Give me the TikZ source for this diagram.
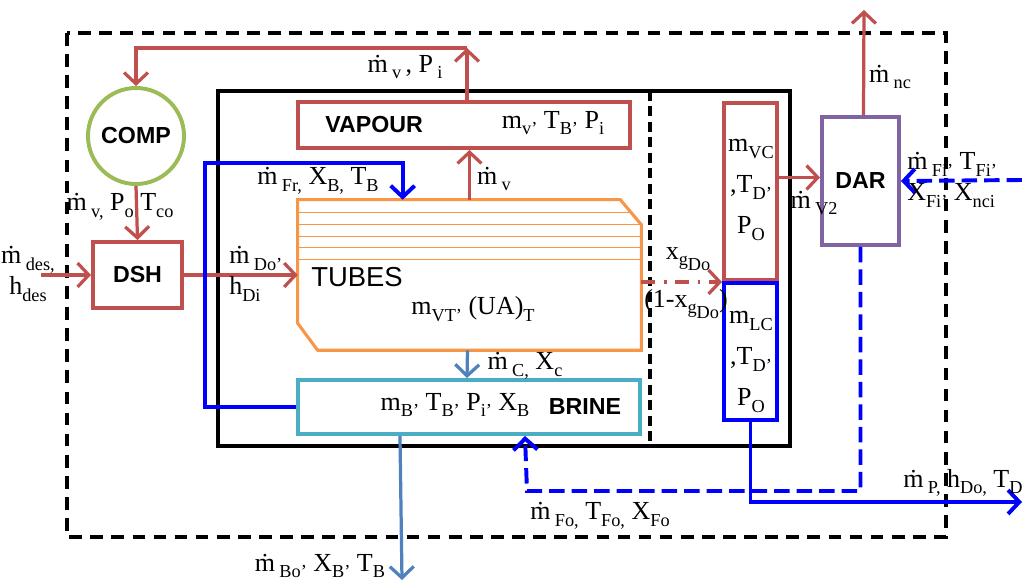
\documentclass[tikz,border=0pt]{standalone}
\usepackage{fontspec}
\setmainfont{Liberation Serif}
\newfontfamily\labelsans{Liberation Sans}
\usepackage{amsmath}
\usetikzlibrary{arrows.meta, calc, positioning}
\definecolor{dsred}{RGB}{192, 80, 77}
\definecolor{dsgreen}{RGB}{155, 187, 89}
\definecolor{dsorange}{RGB}{247, 150, 70}
\definecolor{dscyan}{RGB}{75, 172, 198}
\definecolor{dssteel}{RGB}{79, 129, 189}
\definecolor{dspurple}{RGB}{128, 100, 162}
\definecolor{dsblue}{RGB}{0, 0, 255}
\newcommand{\mdot}{ṁ}
\newcommand{\sub}[1]{\raisebox{-0.55ex}{\fontsize{13}{14}\selectfont #1}}

\begin{document}
\begin{tikzpicture}[
  x=0.025cm, y=-0.025cm,
  lbl/.style={inner sep=0pt, font=\fontsize{18.5}{22}\selectfont},
  tagtext/.style={inner sep=0pt, font=\labelsans\bfseries\fontsize{16.5}{18}\selectfont},
  unitbox/.style={draw, line width=2.8pt, inner sep=0pt},
  redflow/.style={draw=dsred, line width=2.3pt, -{Straight Barb[length=8pt,width=17pt]}},
  blueflow/.style={draw=dsblue, line width=2.8pt, -{Straight Barb[length=8pt,width=17pt]}},
  steelflow/.style={draw=dssteel, line width=2.3pt, -{Straight Barb[length=8pt,width=17pt]}}
]
  \useasboundingbox (0,0) rectangle (1022,582);

  % control volumes
  \draw[line width=2.8pt, dash pattern=on 9pt off 6pt] (67,33) rectangle (946,537);
  \draw[line width=2.8pt] (218,91) rectangle (790,446);
  \draw[line width=2.8pt, dash pattern=on 7pt off 4pt] (650,91) -- (650,446);

  % units
  \node[unitbox, circle, draw=dsgreen, minimum size=2.4cm, font=\labelsans\bfseries\fontsize{16.5}{18}\selectfont] (comp) at (136,136) {COMP};
  \node[unitbox, draw=dsred, minimum width=2.225cm, minimum height=1.65cm, font=\labelsans\bfseries\fontsize{16.5}{18}\selectfont] (dsh) at (137.5,275) {DSH};
  \node[unitbox, draw=dsred, minimum width=8.3cm, minimum height=1.15cm] (vapour) at (464,125) {};
  \node[unitbox, draw=dscyan, minimum width=8.55cm, minimum height=1.35cm] (brine) at (469,407) {};
  \node[unitbox, draw=dsred, minimum width=1.325cm, minimum height=4.425cm] (vc) at (750.5,191.5) {};
  \node[unitbox, draw=dsblue, minimum width=1.325cm, minimum height=3.425cm] (lc) at (750.5,351.5) {};
  \node[unitbox, draw=dspurple, minimum width=1.925cm, minimum height=3.2cm, font=\labelsans\bfseries\fontsize{16.5}{18}\selectfont] (dar) at (860.5,181) {DAR};
  \node[inner sep=0pt, minimum width=8.575cm, minimum height=3.75cm] (tubes) at (469.5,275) {};

  % tube bundle
  \begin{scope}
    \clip (tubes.north west) -- ($(tubes.north east)+(-21,0)$) -- ($(tubes.north east)+(0,25)$)
      -- (tubes.south east) -- ($(tubes.south west)+(20,0)$) -- ($(tubes.south west)+(0,-27)$) -- cycle;
    \foreach \dy in {13,25,37,48,60}
      \draw[dsorange, line width=1.1pt] ($(tubes.north west)+(0,\dy)$) -- ($(tubes.north east)+(0,\dy)$);
  \end{scope}
  \draw[dsorange, line width=2.2pt] (tubes.north west) -- ($(tubes.north east)+(-21,0)$) -- ($(tubes.north east)+(0,25)$)
    -- (tubes.south east) -- ($(tubes.south west)+(20,0)$) -- ($(tubes.south west)+(0,-27)$) -- cycle;

  % texts inside units
  \node[tagtext, anchor=west] (vapourtag) at (325,125) {VAPOUR};
  \node[lbl] (vapourvar) at (553,123) {m\sub{v’} T\sub{B’} P\sub{i}};
  \node[lbl, anchor=west, font=\labelsans\fontsize{19.5}{21}\selectfont] (tubestag) at (311,277) {TUBES};
  \node[lbl] (tubesvar) at (473,309) {m\sub{VT’} (UA)\sub{T}};
  \node[lbl] (brinevar) at (455,405) {m\sub{B’} T\sub{B’} P\sub{i’} X\sub{B}};
  \node[tagtext] (brinetag) at (585,407) {BRINE};
  \node[lbl, align=center] (vcvar) at (751,190) {m\sub{VC}\\[7pt],T\sub{D’}\\[7pt]P\sub{O}};
  \node[lbl, align=center] (lcvar) at (751,362) {m\sub{LC}\\[7pt],T\sub{D’}\\[7pt]P\sub{O}};

  % free ends
  \coordinate (vtop) at (467,48);
  \coordinate (desin) at (41,275);
  \coordinate (frcorner) at (205,163);
  \coordinate (boout) at (402,580);
  \coordinate (ncout) at (864,10);
  \coordinate (fiin) at (1022,180);
  \coordinate (focorner) at (527,491);
  \coordinate (pout) at (1022,502);

  % vapour loop
  \draw[redflow] ($(vapour.north)+(3,0)$) -- (vtop);
  \draw[redflow] (vtop) -| (comp.north);
  \draw[redflow] (comp.south) -- (dsh.north);
  \draw[redflow] (desin) -- (dsh.west);
  \draw[redflow] (dsh.east) -- (tubes.west);
  \draw[redflow] (tubes.north) -- (tubes.north |- vapour.south);
  \draw[redflow, dash pattern=on 10pt off 6pt on 2pt off 6pt] (tubes.east |- vc.south west) -- (vc.south west);
  \draw[redflow] ($(vc.east)+(0,-14)$) -- ($(vc.east -| dar.west)+(0,-14)$);
  \draw[redflow] ($(dar.north)+(3,0)$) -- (ncout);

  % brine and feed
  \draw[blueflow] (brine.west) -| (frcorner) -| ($(tubes.north west)+(105,0)$);
  \draw[steelflow] ($(tubes.south)+(-2,0)$) -- ($(brine.north)+(-2,0)$);
  \draw[steelflow] ($(brine.south west)+(104,0)$) -- (boout);
  \draw[blueflow, dash pattern=on 11pt off 5pt] (fiin) -- (dar.east);
  \draw[blueflow, dash pattern=on 11pt off 5pt] (dar.south) |- (focorner) -- ($(brine.south west)+(229,0)$);
  \draw[blueflow] (lc.south) |- (pout);

  % stream labels
  \node[lbl] (vpilbl) at (405,67) {\mdot\,\sub{v}\,, P\,\sub{i}};
  \node[lbl] (vpolbl) at (120,207) {\mdot\,\sub{v,} P\sub{o} T\sub{co}};
  \node[lbl, align=center] (deslbl) at (28,274) {\mdot\,\sub{des,}\\h\sub{des}};
  \node[lbl, align=left, anchor=west] (dolbl) at (229,274) {\mdot\,\sub{Do’}\\h\sub{Di}};
  \node[lbl] (frlbl) at (318,181) {\mdot\,\sub{Fr,} X\sub{B,} T\sub{B}};
  \node[lbl] (vlbl) at (494,179) {\mdot\,\sub{v}};
  \node[lbl] (clbl) at (525,366) {\mdot\,\sub{C,} X\sub{c}};
  \node[lbl] (bolbl) at (320,566) {\mdot\,\sub{Bo’} X\sub{B’} T\sub{B}};
  \node[lbl] (xglbl) at (688,259) {x\sub{g\sub{Do}}};
  \node[lbl] (xllbl) at (686,304) {(1-x\sub{g\sub{Do}})};
  \node[lbl] (v2lbl) at (814,203) {\mdot\,\sub{V2}};
  \node[lbl] (nclbl) at (890,77) {\mdot\,\sub{nc}};
  \node[lbl, align=left, anchor=west] (filbl) at (907,180) {\mdot\,\sub{Fi’} T\sub{Fi’}\\X\sub{Fi’} X\sub{nci}};
  \node[lbl, anchor=west] (plbl) at (903,483) {\mdot\,\sub{P,} h\sub{Do,} T\sub{D}};
  \node[lbl] (folbl) at (600,516) {\mdot\,\sub{Fo,} T\sub{Fo,} X\sub{Fo}};
\end{tikzpicture}
\end{document}
